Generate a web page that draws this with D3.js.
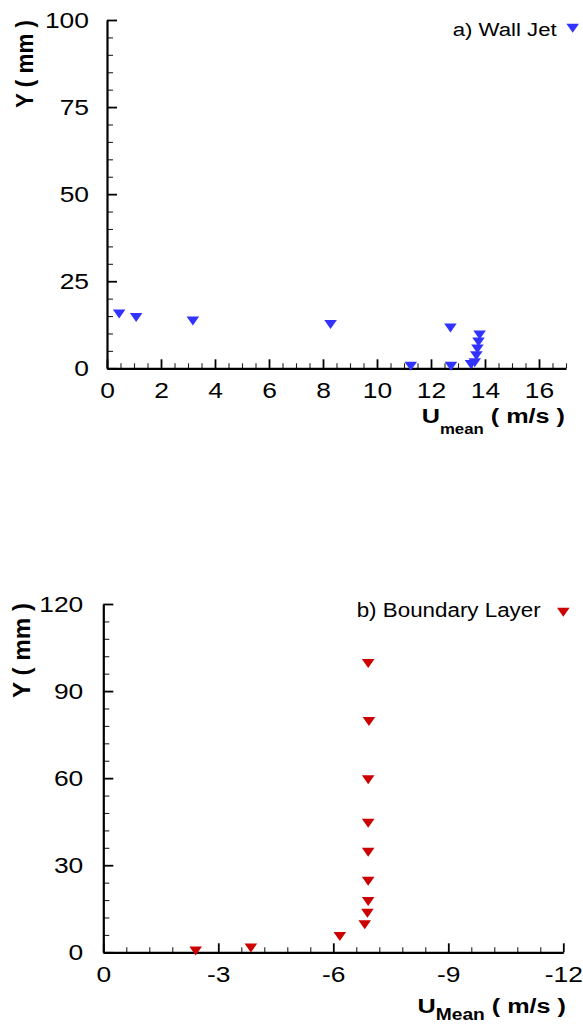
<!DOCTYPE html>
<html>
<head>
<meta charset="utf-8">
<script src="https://cdn.jsdelivr.net/npm/d3@7"></script>
<style>
  body { margin: 0; background: #fff; }
  svg { display: block; font-family: "Liberation Sans", Arial, Helvetica, sans-serif; }
</style>
</head>
<body>
<svg id="chart" width="583" height="1025"></svg>
<script>
// a) Wall jet: mean velocity (m/s) against height above the wall (mm)
const wallJetU = [0.45, 1.08, 3.18, 8.28, 11.25, 12.72, 12.74, 13.48, 13.62, 13.68, 13.72, 13.76, 13.8];
const wallJetY = [16, 15, 14, 13, 1, 12, 1, 1.5, 2, 4, 6, 8, 10];

// b) Boundary layer: mean velocity (m/s) against height (mm)
const boundaryU = [-2.41, -3.85, -6.17, -6.82, -6.89, -6.91, -6.91, -6.91, -6.91, -6.91, -6.93, -6.91];
const boundaryY = [1, 2, 6, 10, 14, 18, 25, 35, 45, 60, 80, 100];

// Axis ticks
const wallJetXTicks = [0, 2, 4, 6, 8, 10, 12, 14, 16];
const wallJetYTicks = [0, 25, 50, 75, 100];
const boundaryXTicks = [0, -3, -6, -9, -12];
const boundaryYTicks = [0, 30, 60, 90, 120];

const svg = d3.select("#chart");
const STRETCH = 1.2;

// Widen single-run text horizontally, keeping its anchor in place
function widen(sel, k) {
  sel.each(function () {
    const w = this.getComputedTextLength();
    d3.select(this).attr("textLength", w * k).attr("lengthAdjust", "spacingAndGlyphs");
  });
}

// Downward triangle with its centroid on the data point
const triangle = "M-6.3,-3L6.3,-3L0,6Z";
// Plain hyphen for negative labels
const plain = d => String(d);

function panel(cfg) {
  const x = d3.scaleLinear().domain(cfg.xDomain).range(cfg.xRange);
  const y = d3.scaleLinear().domain(cfg.yDomain).range(cfg.yRange);
  const x0 = cfg.xRange[0], y0 = cfg.yRange[0];
  const g = svg.append("g");

  // minor ticks
  const xMinor = g.append("g").attr("transform", `translate(0,${y0})`)
    .call(d3.axisBottom(x).tickValues(cfg.xMinor).tickSize(-5).tickSizeOuter(0).tickFormat(""));
  xMinor.select(".domain").remove();
  xMinor.selectAll("line").attr("stroke", "#222").attr("stroke-width", 1.1);
  const yMinor = g.append("g").attr("transform", `translate(${x0},0)`)
    .call(d3.axisLeft(y).tickValues(cfg.yMinor).tickSize(-6).tickSizeOuter(0).tickFormat(""));
  yMinor.select(".domain").remove();
  yMinor.selectAll("line").attr("stroke", "#222").attr("stroke-width", 1.1);

  // major ticks with labels
  const xAxis = g.append("g").attr("transform", `translate(0,${y0})`)
    .call(d3.axisBottom(x).tickValues(cfg.xTicks).tickSize(-9).tickSizeOuter(0).tickPadding(14)
      .tickFormat(plain));
  const yAxis = g.append("g").attr("transform", `translate(${x0},0)`)
    .call(d3.axisLeft(y).tickValues(cfg.yTicks).tickSize(-10).tickSizeOuter(0).tickPadding(cfg.yPad)
      .tickFormat(plain));
  [xAxis, yAxis].forEach(a => {
    a.select(".domain").attr("stroke", "#000").attr("stroke-width", 2.2);
    a.selectAll(".tick line").attr("stroke", "#000").attr("stroke-width", 1.8);
    a.selectAll(".tick text").attr("fill", "#000").attr("font-size", 22)
      .attr("font-family", "Liberation Sans, Arial, sans-serif");
    widen(a.selectAll(".tick text"), STRETCH);
  });
  xAxis.select(".domain").raise();
  yAxis.select(".domain").raise();

  // points
  g.append("g").selectAll("path")
    .data(cfg.u.map((u, i) => [u, cfg.v[i]]))
    .join("path")
    .attr("d", triangle)
    .attr("transform", d => `translate(${x(d[0])},${y(d[1])})`)
    .attr("fill", cfg.color);

  // y title
  g.append("text")
    .attr("transform", `translate(${cfg.yTitle[0]},${cfg.yTitle[1]}) rotate(-90)`)
    .attr("text-anchor", "middle")
    .attr("font-size", 23).attr("font-weight", "bold")
    .attr("textLength", cfg.yTitle[2]).attr("lengthAdjust", "spacingAndGlyphs")
    .text("Y ( mm )");

  // x title with subscript
  const xt = g.append("text")
    .attr("transform", `translate(${cfg.xTitle[0]},${cfg.xTitle[1]}) scale(${STRETCH},1)`)
    .attr("text-anchor", "end")
    .attr("font-weight", "bold").attr("font-size", 21);
  xt.append("tspan").text("U");
  xt.append("tspan").attr("font-size", cfg.subSize).attr("dy", cfg.subDy).text(cfg.sub);
  xt.append("tspan").attr("dy", -cfg.subDy).text(" ( m/s )");

  // legend
  g.append("text")
    .attr("x", cfg.legend.x).attr("y", cfg.legend.y)
    .attr("text-anchor", cfg.legend.anchor)
    .attr("font-size", cfg.legend.size)
    .attr("fill", "#000")
    .attr("textLength", cfg.legend.w).attr("lengthAdjust", "spacingAndGlyphs")
    .text(cfg.legend.label);
  g.append("path").attr("d", triangle)
    .attr("transform", `translate(${cfg.legend.mx},${cfg.legend.my - 1.5})`)
    .attr("fill", cfg.color);
}

panel({
  xDomain: [0, 17], xRange: [107, 566],
  yDomain: [0, 100], yRange: [368.3, 20],
  xTicks: wallJetXTicks, yTicks: wallJetYTicks,
  xMinor: d3.range(0, 35).map(i => i * 0.5).filter(v => v % 2 !== 0),
  yMinor: d3.range(0, 21).map(i => i * 5).filter(v => v % 25 !== 0),
  yPad: 18,
  u: wallJetU, v: wallJetY, color: "#3333ff",
  yTitle: [33, 64, 88],
  xTitle: [565, 423.3], sub: "mean", subSize: 14, subDy: 11,
  legend: { x: 556.7, y: 36, anchor: "end", size: 18, w: 104, label: "a) Wall Jet", mx: 572.7, my: 28.3 }
});

panel({
  xDomain: [0, -12], xRange: [103.3, 563.3],
  yDomain: [0, 120], yRange: [952.3, 604],
  xTicks: boundaryXTicks, yTicks: boundaryYTicks,
  xMinor: d3.range(0, 21).map(i => -Math.round(i * 6) / 10).filter(v => Math.abs(v) % 3 !== 0),
  yMinor: d3.range(0, 21).map(i => i * 6).filter(v => v % 30 !== 0),
  yPad: 20,
  u: boundaryU, v: boundaryY, color: "#cc0000",
  yTitle: [30, 650.5, 95],
  xTitle: [566, 1013.3], sub: "Mean", subSize: 16, subDy: 7,
  legend: { x: 356.7, y: 617.3, anchor: "start", size: 19.5, w: 184, label: "b) Boundary Layer", mx: 563.3, my: 612.3 }
});
</script>
</body>
</html>
